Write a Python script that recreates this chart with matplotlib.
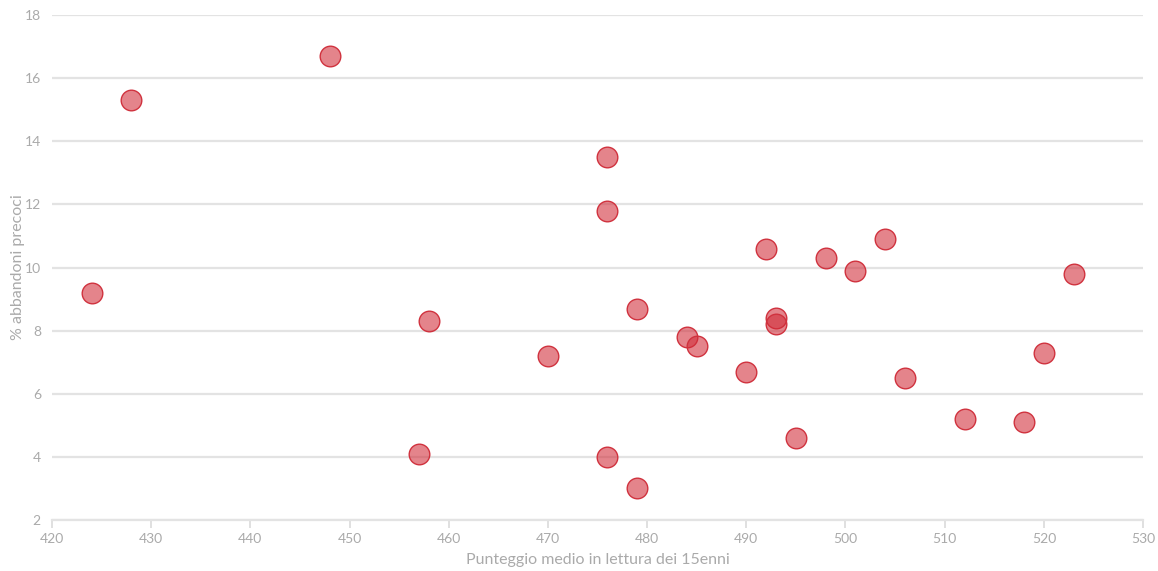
import matplotlib
matplotlib.use("Agg")
import matplotlib.pyplot as plt

plt.rcParams['font.family'] = ['Lato', 'DejaVu Sans']

# punteggio medio lettura (x) vs % abbandoni precoci (y)
lettura = [424, 428, 448, 458, 457, 470, 476, 476, 476, 479, 479, 484, 485,
           490, 492, 493, 493, 495, 498, 501, 504, 506, 512, 518, 520, 523]
abbandoni = [9.2, 15.3, 16.7, 8.3, 4.1, 7.2, 13.5, 11.8, 4.0, 8.7, 3.0, 7.8, 7.5,
             6.7, 10.6, 8.4, 8.2, 4.6, 10.3, 9.9, 10.9, 6.5, 5.2, 5.1, 7.3, 9.8]

x_ticks = list(range(420, 531, 10))
y_ticks = list(range(2, 19, 2))

fig = plt.figure(figsize=(11.58, 5.71), dpi=100)
ax = fig.add_axes([0.0449, 0.0893, 0.9422, 0.8844])

ax.scatter(lettura, abbandoni, s=220, facecolor=(0.82, 0.17, 0.22, 0.58),
           edgecolor='#d0323e', linewidth=1.0, zorder=3)

ax.set_xlim(420, 530)
ax.set_ylim(2, 18)
ax.set_xticks(x_ticks)
ax.set_yticks(y_ticks)
ax.grid(axis='y', color='#e3e3e3', linewidth=1.6)
ax.set_axisbelow(True)
for s in ['top', 'right', 'left']:
    ax.spines[s].set_visible(False)
ax.spines['bottom'].set_color('#e3e3e3')
ax.spines['bottom'].set_linewidth(1.6)
ax.tick_params(axis='x', colors='#e0e0e0', labelcolor='#aaaaaa', length=6,
               width=1.4, labelsize=10, pad=3)
ax.tick_params(axis='y', length=0, labelcolor='#aaaaaa', labelsize=10, pad=8)

ax.set_xlabel("Punteggio medio in lettura dei 15enni", color='#aaaaaa',
              fontsize=11.5, labelpad=6)
ax.set_ylabel("% abbandoni precoci", color='#aaaaaa', fontsize=11.5)
ax.yaxis.set_label_coords(-0.025, 0.5)

fig.savefig("out.png", dpi=100)
